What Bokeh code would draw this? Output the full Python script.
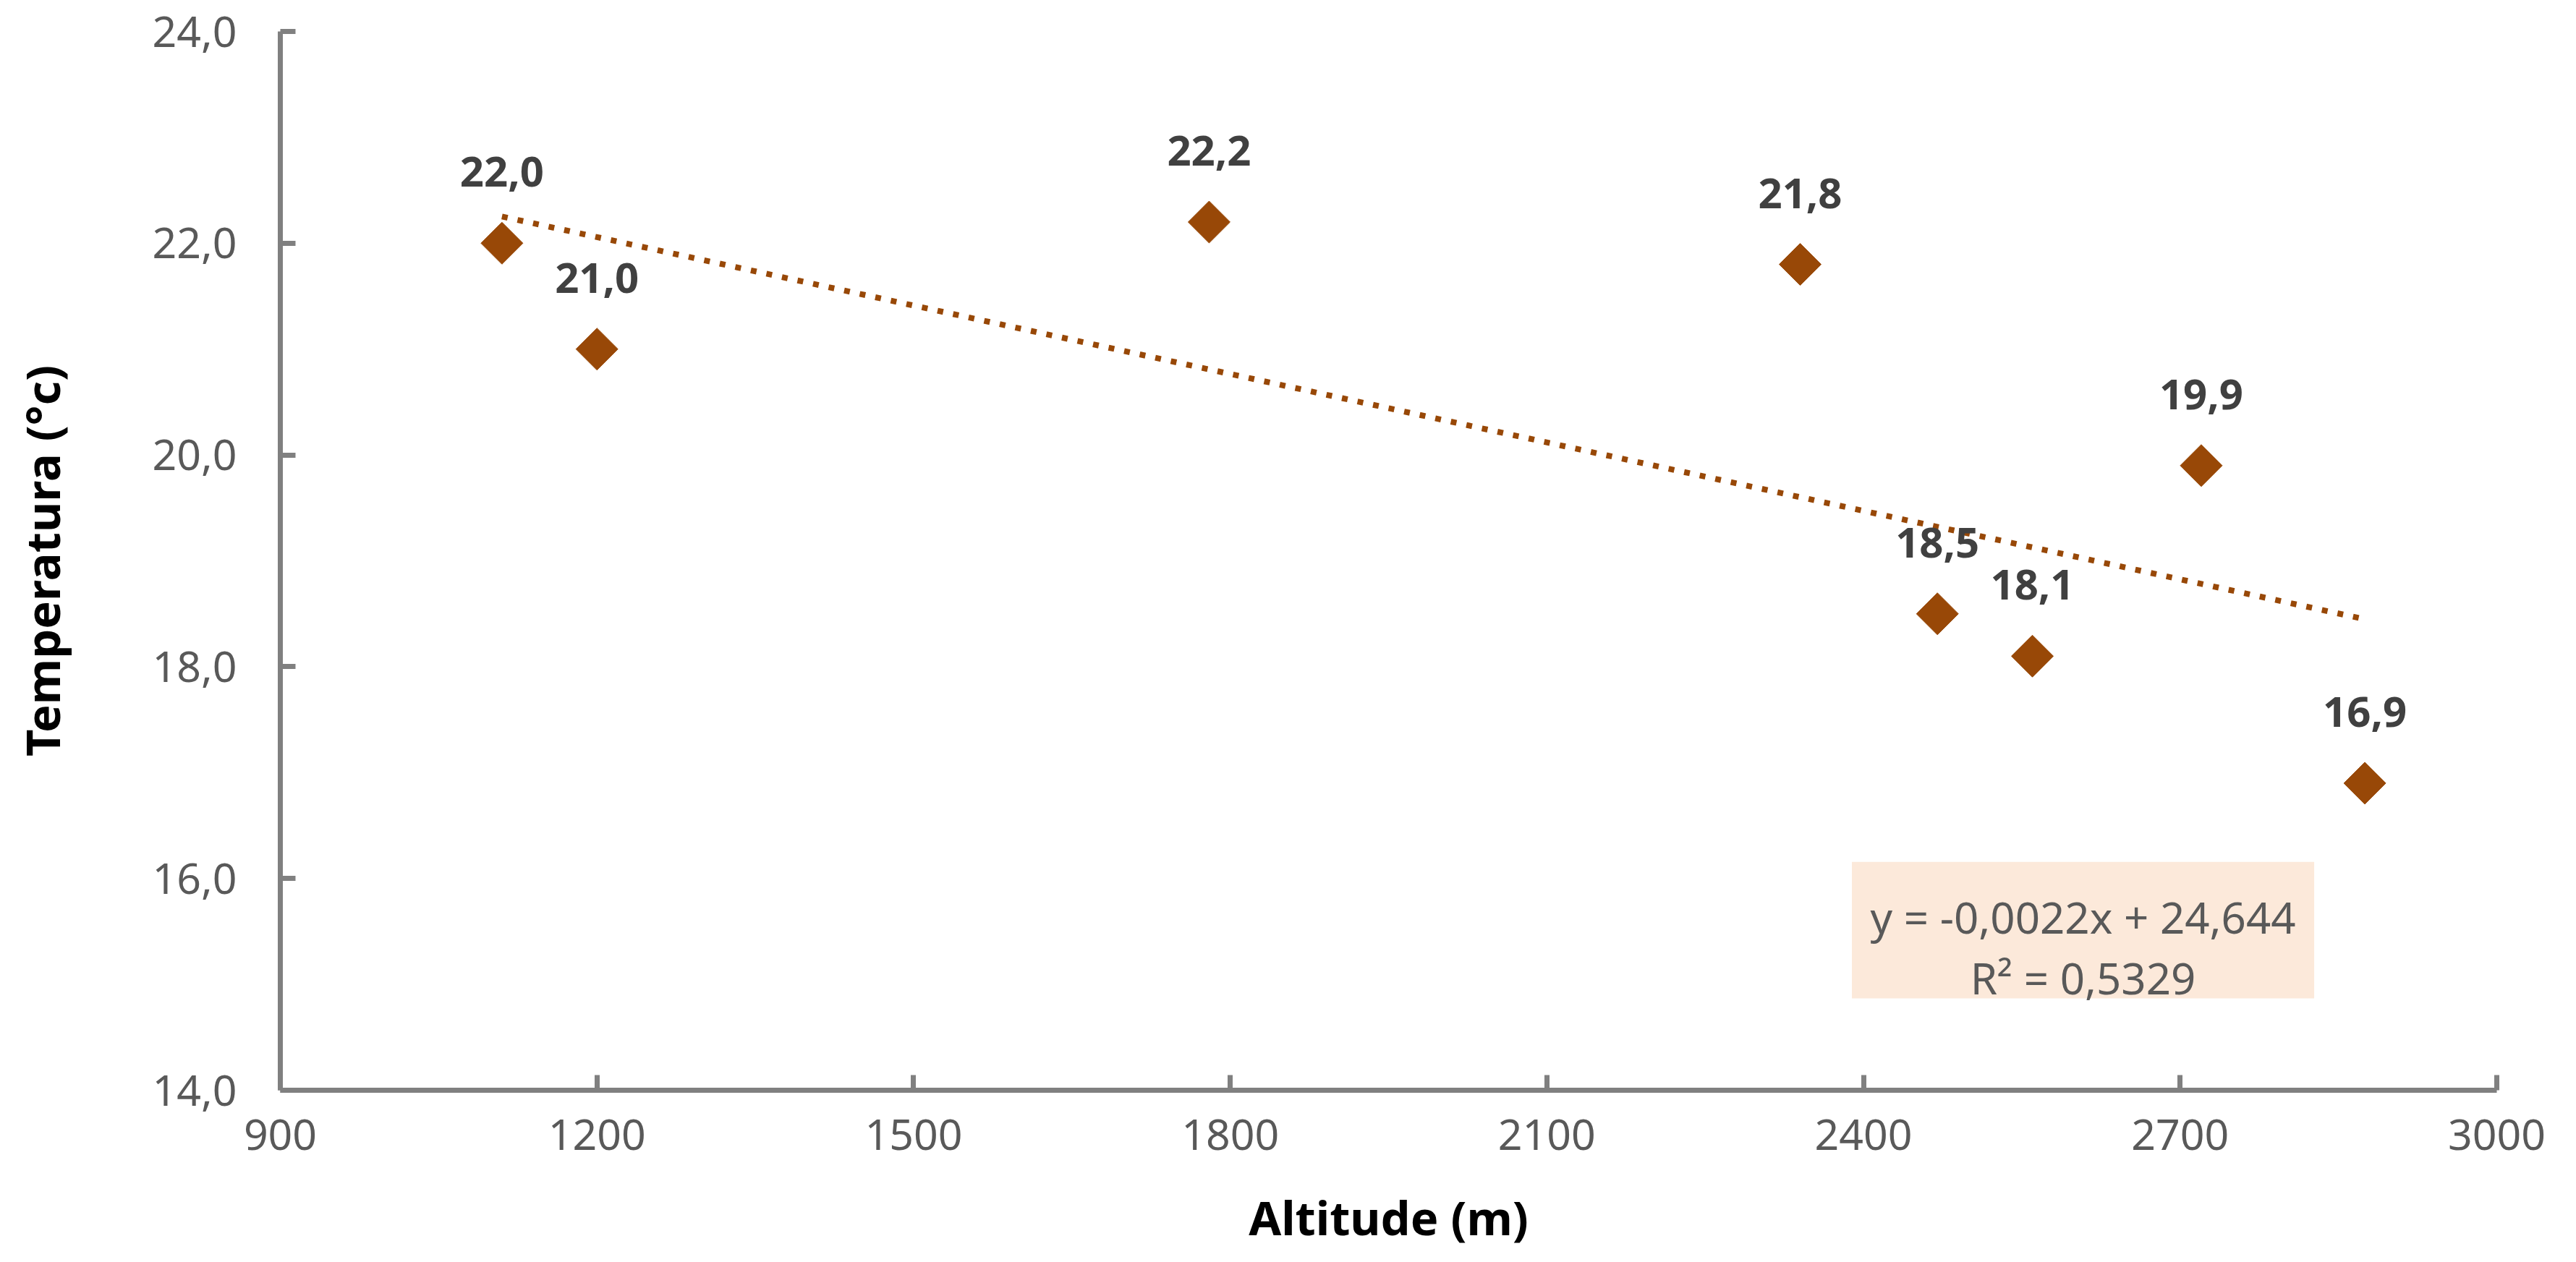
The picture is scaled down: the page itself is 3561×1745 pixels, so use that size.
import numpy as np
from bokeh.plotting import figure
from bokeh.models import (FixedTicker, Range1d, BoxAnnotation, Label,
                          LabelSet, ColumnDataSource)
from bokeh.embed import file_html
from bokeh.resources import INLINE
from bokeh.core.properties import value

# ---- data ----
altitude = [1110, 1200, 1780, 2340, 2470, 2560, 2720, 2875]
temperature = [22.0, 21.0, 22.2, 21.8, 18.5, 18.1, 19.9, 16.9]
point_labels = ["22,0", "21,0", "22,2", "21,8", "18,5", "18,1", "19,9", "16,9"]

x_ticks = [900, 1200, 1500, 1800, 2100, 2400, 2700, 3000]
x_tick_labels = ["900", "1200", "1500", "1800", "2100", "2400", "2700", "3000"]
y_ticks = [14, 16, 18, 20, 22, 24]
y_tick_labels = ["14,0", "16,0", "18,0", "20,0", "22,0", "24,0"]

equation_text = "y = -0,0022x + 24,644"
r2_text = "R\u00b2 = 0,5329"
x_title = "Altitude (m)"
y_title = "Temperatura (°c)"

# ---- style ----
MARKER = "#984807"
AXIS = "#808080"
TICKTXT = "#595959"
FONT = "Noto Sans"

p = figure(width=3545, height=1729,
           x_range=Range1d(900, 3000), y_range=Range1d(14, 24),
           output_backend="svg", toolbar_location=None,
           min_border_left=387, min_border_right=94,
           min_border_top=43, min_border_bottom=220)
p.xgrid.visible = False
p.ygrid.visible = False
p.outline_line_color = None
p.background_fill_color = "white"
p.border_fill_color = "white"

for ax, ticks, labels in ((p.xaxis[0], x_ticks, x_tick_labels),
                          (p.yaxis[0], y_ticks, y_tick_labels)):
    ax.ticker = FixedTicker(ticks=ticks)
    ax.major_label_overrides = {t: l for t, l in zip(ticks, labels)}
    ax.minor_tick_line_color = None
    ax.axis_line_color = AXIS
    ax.axis_line_width = 7
    ax.major_tick_line_color = AXIS
    ax.major_tick_line_width = 7
    ax.major_tick_in = 21
    ax.major_tick_out = 0
    ax.major_label_text_font = FONT
    ax.major_label_text_font_size = "59px"
    ax.major_label_text_color = TICKTXT
    ax.axis_label_text_font = FONT
    ax.axis_label_text_font_size = "65px"
    ax.axis_label_text_font_style = "bold"
    ax.axis_label_text_color = "#000000"

p.xaxis.axis_label = x_title
p.yaxis.axis_label = y_title
p.xaxis.major_label_standoff = 40
p.yaxis.major_label_standoff = 60
p.xaxis.axis_label_standoff = 46
p.yaxis.axis_label_standoff = 105

# trendline (least squares fit of the data)
xa = np.array(altitude, dtype=float)
ya = np.array(temperature, dtype=float)
slope, intercept = np.polyfit(xa, ya, 1)
tx = [xa.min(), xa.max()]
ty = [slope * tx[0] + intercept, slope * tx[1] + intercept]
p.line(tx, ty, line_color=MARKER, line_width=8, line_dash="8 14",
       line_cap="butt")

src = ColumnDataSource(dict(x=altitude, y=temperature, label=point_labels))
p.scatter("x", "y", source=src, marker="square", size=41, angle=np.pi / 4,
          fill_color=MARKER, line_color=MARKER, line_width=1)

p.add_layout(LabelSet(x="x", y="y", text="label", source=src,
                      y_offset=78, text_align="center",
                      text_baseline="alphabetic",
                      text_font=value(FONT), text_font_style="bold",
                      text_font_size="58px", text_color="#404040"))

# equation box
p.add_layout(BoxAnnotation(left=2389, right=2827, bottom=14.867, top=16.157,
                           fill_color="#FCE9DA", fill_alpha=1.0,
                           line_color=None, level="underlay"))
p.add_layout(Label(x=2608, y=15.638, text=equation_text, text_align="center",
                   text_baseline="alphabetic", text_font=FONT,
                   text_font_size="60px", text_color=TICKTXT))
p.add_layout(Label(x=2608, y=15.065, text=r2_text, text_align="center",
                   text_baseline="alphabetic", text_font=FONT,
                   text_font_size="60px", text_color=TICKTXT))

open("out.html", "w").write(file_html(p, INLINE))
